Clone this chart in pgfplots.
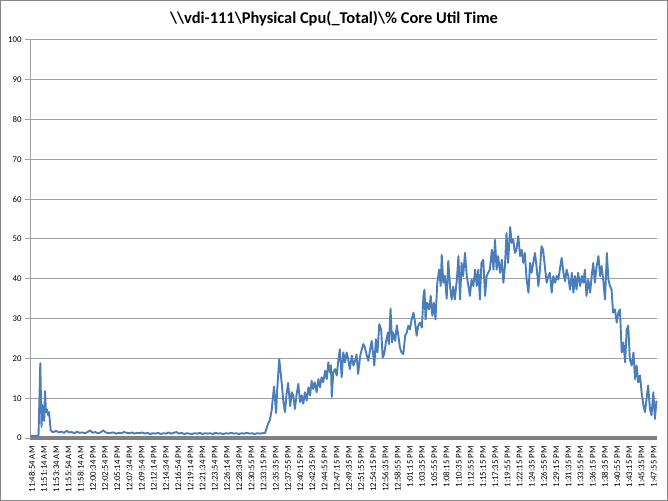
\documentclass[border=0pt]{standalone}
\usepackage{fontspec}
\setmainfont{Carlito}
\usepackage{pgfplots}
\usepackage{pgfplotstable}
\pgfplotsset{compat=1.18}

\definecolor{cpublue}{RGB}{74,126,187}
\definecolor{gridgray}{RGB}{160,160,160}
\definecolor{bargray}{RGB}{128,128,128}
\definecolor{framegray}{RGB}{134,134,134}

% minutes after 11:48:54 AM, % core util time
\pgfplotstableread{
t y
0 0.5
0.8 0.5
1.63 0.6
1.97 18.8
2.2 2.8
2.35 8.3
2.49 4.5
2.62 8
2.72 4.3
2.87 11.8
3.06 6.5
3.25 7.2
3.44 5.8
3.64 6.5
3.96 2.0
4.2 1.6
4.5 1.5
5 1.8
5.5 1.4
6 1.6
6.5 1.3
7 1.8
7.5 1.4
8 1.5
8.5 1.2
9 1.6
9.5 1.3
10 1.4
10.5 1.2
11 1.5
11.5 1.9
12 1.3
12.5 1.5
13 1.2
13.5 1.4
14 1.9
14.5 1.4
15 1.2
15.5 1.3
16 1.4
16.5 1.1
17 1.3
17.5 1.2
18 1.5
18.5 1.3
19 1.2
19.5 1.4
20 1.1
20.5 1.3
21 1.2
21.5 1.4
22 1.1
22.5 1.3
23 1.0
23.5 1.2
24 1.1
24.5 1.3
25 1.0
25.5 1.2
26 1.1
26.5 1.4
27 1.1
27.5 1.3
28 1.5
28.5 1.1
29 1.3
29.5 1.0
30 1.2
30.5 1.1
31 1.0
31.5 1.2
32 1.1
32.5 1.3
33 1.0
33.5 1.2
34 1.1
34.5 1.2
35 1.0
35.5 1.3
36 1.1
36.5 1.2
37 1.0
37.5 1.2
38 1.1
38.5 1.3
39 1.1
39.5 1.2
40 1.0
40.5 1.2
41 1.1
41.5 1.3
42 1.1
42.5 1.2
43 1.0
43.5 1.2
44 1.1
44.5 1.2
45.0 1.3
45.3 2.5
45.55 3.5
45.9 4.5
46.25 7
46.7 12.9
47.1 6.3
47.3 12
47.7 19.8
48.2 13.5
48.5 9
48.8 6.5
49.1 11
49.4 13.8
49.8 8
50.1 11.5
50.4 10.5
50.7 7.3
51.0 10.7
51.35 13.6
51.7 9
52.0 10.7
52.3 8.6
52.6 11.5
52.95 9.4
53.3 12.75
53.6 10.7
53.9 14.4
54.2 12.3
54.5 14
54.85 11.5
55.2 14.8
55.5 12.75
55.8 15.25
56.1 14
56.5 16.9
56.8 14.8
57.1 19
57.4 16.5
57.6 18.2
57.75 10.3
58.05 16.5
58.4 17.3
58.7 15.7
59.0 19.4
59.3 22.3
59.65 15.25
59.96 21.5
60.3 19
60.6 21.5
60.9 19.8
61.2 17.3
61.6 20.7
61.9 18.2
62.2 19.4
62.5 21
62.8 16.1
63.2 20.7
63.5 22.3
63.8 23.6
64.1 22.75
64.4 21
64.75 19.4
65.1 22.3
65.4 24.4
65.9 18.2
66.2 24.8
66.5 21.5
66.85 28.6
67.2 27.3
67.5 20.25
67.8 21.1
68.1 24
68.5 26.5
68.7 23.6
69.0 32.5
69.3 24
69.5 26.5
69.9 24.4
70.2 28.3
70.5 25.7
70.8 22.75
71.1 21.5
71.45 21.1
71.8 25.7
72.1 26.5
72.4 28.2
72.7 27.3
73.05 29.8
73.4 31.5
73.7 29
74.0 25.7
74.3 28.2
74.6 29
75.0 27.75
75.3 35.7
75.5 37.3
75.7 29.8
76.0 34
76.4 32.3
76.7 35.7
77.0 30.7
77.3 34
77.6 29.8
77.95 39
78.3 42.3
78.6 38.2
78.8 46
79.1 39
79.4 40.7
79.75 35
80.05 44.5
80.4 38
80.7 34.8
81.0 38
81.3 34.8
81.7 39.8
82.0 45.7
82.3 34.8
82.6 44
82.9 40.7
83.25 46.5
83.6 40.7
83.9 38.2
84.2 35.7
84.5 39.8
84.85 38.2
85.2 42.3
85.5 38.2
85.8 42.3
86.1 34.8
86.4 44
86.75 44.8
87.1 35.7
87.4 40.7
87.7 41.5
88.0 42.3
88.4 47.3
88.7 42.3
89.0 49.8
89.3 42.3
89.6 45.7
89.95 41.5
90.3 44.8
90.6 39
90.9 43.2
91.2 51.5
91.5 44
91.9 53
92.2 49
92.5 49.8
92.8 46.5
93.1 47.3
93.45 50.7
93.8 45.7
94.1 47.3
94.4 44
94.7 46.5
95.05 39.8
95.4 36.5
95.7 44
96.0 41.5
96.3 44
96.65 46.5
97.0 42.3
97.3 38.2
97.6 42.3
97.9 48.2
98.2 47.3
98.6 42.3
98.9 39
99.2 40.7
99.5 41.5
99.85 36.5
100.15 40.7
100.5 39
100.8 40.7
101.1 39.8
101.4 42.3
101.75 45.25
102.1 41.5
102.4 39.4
102.7 42.3
103.0 40.7
103.35 37.3
103.7 41.5
104.0 36.5
104.3 40.7
104.6 37.3
104.9 41.5
105.3 38.2
105.6 40.7
105.9 39
106.2 42.3
106.5 35.7
106.85 39.8
107.2 36.5
107.5 40.7
107.8 44
108.1 39
108.45 43.2
108.8 45.7
109.1 40.7
109.4 43.2
109.7 39.8
110.05 34.8
110.4 46.5
110.7 39.8
111.0 38.2
111.3 37.3
111.6 31.5
111.95 32.3
112.3 29
112.6 31.5
112.9 32.3
113.25 21.5
113.55 24
113.9 19
114.2 27.3
114.5 28.2
114.8 19.8
115.15 18.2
115.5 21.5
115.8 14.8
116.1 18.2
116.4 14
116.75 15.7
117.05 11.5
117.4 8.2
117.7 6.5
118.0 9.8
118.3 13.2
118.65 7.3
118.95 5.7
119.3 11.5
119.6 4.8
119.9 9.4
}\cputable

\begin{document}
\begin{tikzpicture}
\useasboundingbox (0,0) rectangle (668bp,501bp);
\draw[framegray, line width=1bp] (0.5bp,0.5bp) rectangle (667.5bp,500.5bp);
\node[anchor=base, font=\fontsize{16.5}{20}\selectfont\bfseries] at (334bp,477bp)
  {\textbackslash\textbackslash vdi-111\textbackslash Physical Cpu(\_Total)\textbackslash\% Core Util Time};
\begin{axis}[
  at={(30bp,63bp)}, anchor=south west,
  scale only axis, width=627bp, height=398bp,
  xmin=0, xmax=120, ymin=0, ymax=100,
  axis x line*=bottom, axis y line*=left,
  axis line style={-},
  x axis line style={line width=3.5bp, bargray},
  y axis line style={line width=1bp, gridgray},
  ymajorgrids, grid style={line width=1bp, gridgray},
  ytick={0,10,...,100},
  ytick style={line width=1bp, gridgray},
  xtick style={draw=none},
  tick align=outside, major tick length=5bp,
  /pgf/number format/assume math mode=true,
  tick label style={font=\fontsize{8.8}{10}\selectfont, black},
  xtick={0,2.3333,4.6667,7,9.3333,11.6667,14,16.3333,18.6667,21,23.3333,25.6667,28,30.3333,32.6667,35,37.3333,39.6667,42,44.3333,46.6667,49,51.3333,53.6667,56,58.3333,60.6667,63,65.3333,67.6667,70,72.3333,74.6667,77,79.3333,81.6667,84,86.3333,88.6667,91,93.3333,95.6667,98,100.3333,102.6667,105,107.3333,109.6667,112,114.3333,116.6667,119},
  xticklabels={11:48:54 AM,11:51:14 AM,11:53:34 AM,11:55:54 AM,11:58:14 AM,12:00:34 PM,12:02:54 PM,12:05:14 PM,12:07:34 PM,12:09:54 PM,12:12:14 PM,12:14:34 PM,12:16:54 PM,12:19:14 PM,12:21:34 PM,12:23:54 PM,12:26:14 PM,12:28:34 PM,12:30:55 PM,12:33:15 PM,12:35:35 PM,12:37:55 PM,12:40:15 PM,12:42:35 PM,12:44:55 PM,12:47:15 PM,12:49:35 PM,12:51:55 PM,12:54:15 PM,12:56:35 PM,12:58:55 PM,1:01:15 PM,1:03:35 PM,1:05:55 PM,1:08:15 PM,1:10:35 PM,1:12:55 PM,1:15:15 PM,1:17:35 PM,1:19:55 PM,1:22:15 PM,1:24:35 PM,1:26:55 PM,1:29:15 PM,1:31:35 PM,1:33:55 PM,1:36:15 PM,1:38:35 PM,1:40:55 PM,1:43:15 PM,1:45:35 PM,1:47:55 PM},
  x tick label style={rotate=90, anchor=east, yshift=-2bp},
  clip=false,
]
\addplot[cpublue, line width=1.9bp, line join=round] table[x=t, y=y] {\cputable};
\end{axis}
\end{tikzpicture}
\end{document}
